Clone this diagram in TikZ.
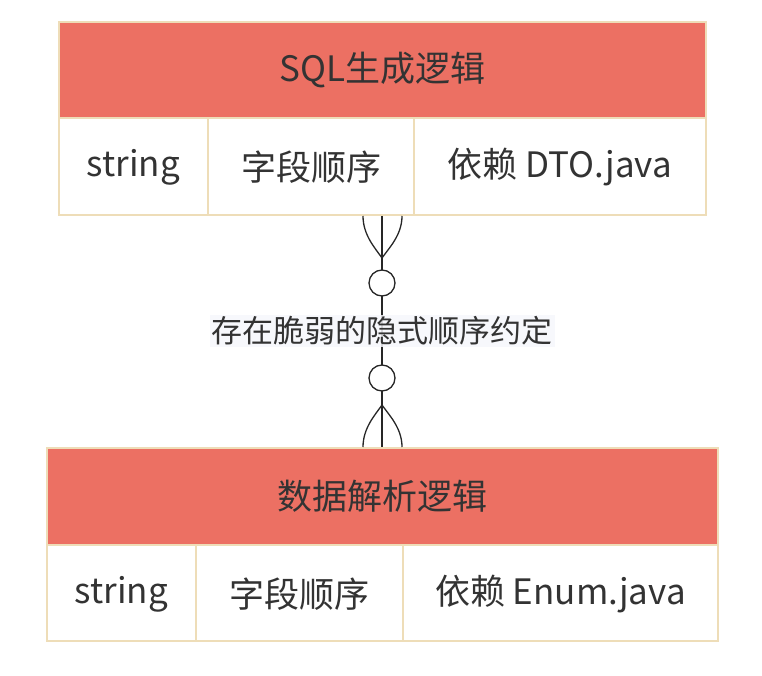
\documentclass[tikz,border=0pt]{standalone}
\usepackage{fontspec}
\setmainfont{Noto Sans CJK SC}
\begin{document}
\begin{tikzpicture}[x=1pt,y=-1pt,
  hdr/.style={draw=bd,fill=hd,line width=1.5pt},
  cell/.style={draw=bd,fill=white,line width=1.5pt},
  txt/.style={text=tx,font=\fontsize{35}{40}\selectfont},
  ln/.style={draw=black!85,line width=1.3pt}]
\definecolor{bd}{HTML}{EEDDB8}
\definecolor{hd}{HTML}{EC7063}
\definecolor{tx}{HTML}{333333}
\definecolor{lb}{HTML}{F6F7FB}
\useasboundingbox (0,0) rectangle (762,676);
% top table
\draw[hdr] (59,22) rectangle (706,118);
\node[txt] (t1) at (382.5,70) {SQL生成逻辑};
\draw[cell] (59,118) rectangle (208,215);
\draw[cell] (208,118) rectangle (414,215);
\draw[cell] (414,118) rectangle (706,215);
\node[txt] (a1) at (133.5,167) {string};
\node[txt] (a2) at (311,167) {字段顺序};
\node[txt] (a3) at (560,167) {依赖 DTO.java};
% bottom table
\draw[hdr] (47,448) rectangle (718,545);
\node[txt] (t2) at (382.5,496) {数据解析逻辑};
\draw[cell] (47,545) rectangle (196,641);
\draw[cell] (196,545) rectangle (403,641);
\draw[cell] (403,545) rectangle (718,641);
\node[txt] (b1) at (121.5,594) {string};
\node[txt] (b2) at (299.5,594) {字段顺序};
\node[txt] (b3) at (560.5,594) {依赖 Enum.java};
% connector
\coordinate (top) at (382,216);
\coordinate (bot) at (382,447);
\draw[ln] (top) -- (bot);
\draw[ln] (363,216) .. controls (363,235) and (375,248) .. (382,258) .. controls (389,248) and (402,235) .. (402,216);
\draw[ln] (363,447) .. controls (363,428) and (375,415) .. (382,405) .. controls (389,415) and (402,428) .. (402,447);
\node[draw=black!85,line width=1.3pt,fill=white,circle,minimum size=26pt,inner sep=0] (c1) at (382,283) {};
\node[draw=black!85,line width=1.3pt,fill=white,circle,minimum size=26pt,inner sep=0] (c2) at (382,378) {};
\node[txt,font=\fontsize{31}{36}\selectfont,fill=lb,fill opacity=0.85,text opacity=1,inner xsep=2pt,inner ysep=2pt] (lab) at (382,331) {存在脆弱的隐式顺序约定};
\end{tikzpicture}
\end{document}
